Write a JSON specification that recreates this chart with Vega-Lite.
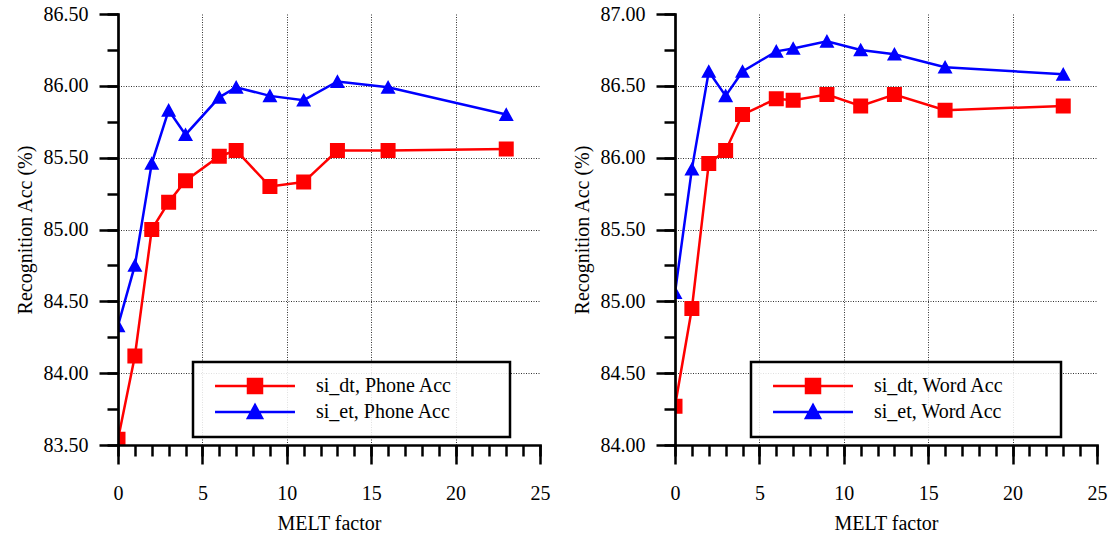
{
  "$schema": "https://vega.github.io/schema/vega-lite/v6.json",
  "background": "white",
  "padding": {"left": 15, "top": 4, "right": 5, "bottom": 5},
  "spacing": 22,
  "config": {
    "view": {"stroke": null},
    "font": "Liberation Serif, serif",
    "axis": {
      "labelFont": "Liberation Serif, serif", "titleFont": "Liberation Serif, serif",
      "labelFontSize": 20, "titleFontSize": 20, "titleFontWeight": "normal",
      "labelColor": "black", "titleColor": "black", "domainColor": "black", "tickColor": "black",
      "labelFlush": false, "labelOverlap": false
    },
    "legend": {"strokeWidth": 2.5}
  },
  "datasets": {
    "phone": [
      {"melt": 0, "acc": 83.54, "series": "si_dt, Phone Acc"},
      {"melt": 1, "acc": 84.12, "series": "si_dt, Phone Acc"},
      {"melt": 2, "acc": 85.00, "series": "si_dt, Phone Acc"},
      {"melt": 3, "acc": 85.19, "series": "si_dt, Phone Acc"},
      {"melt": 4, "acc": 85.34, "series": "si_dt, Phone Acc"},
      {"melt": 6, "acc": 85.51, "series": "si_dt, Phone Acc"},
      {"melt": 7, "acc": 85.55, "series": "si_dt, Phone Acc"},
      {"melt": 9, "acc": 85.30, "series": "si_dt, Phone Acc"},
      {"melt": 11, "acc": 85.33, "series": "si_dt, Phone Acc"},
      {"melt": 13, "acc": 85.55, "series": "si_dt, Phone Acc"},
      {"melt": 16, "acc": 85.55, "series": "si_dt, Phone Acc"},
      {"melt": 23, "acc": 85.56, "series": "si_dt, Phone Acc"},
      {"melt": 0, "acc": 84.33, "series": "si_et, Phone Acc"},
      {"melt": 1, "acc": 84.75, "series": "si_et, Phone Acc"},
      {"melt": 2, "acc": 85.46, "series": "si_et, Phone Acc"},
      {"melt": 3, "acc": 85.83, "series": "si_et, Phone Acc"},
      {"melt": 4, "acc": 85.66, "series": "si_et, Phone Acc"},
      {"melt": 6, "acc": 85.92, "series": "si_et, Phone Acc"},
      {"melt": 7, "acc": 85.99, "series": "si_et, Phone Acc"},
      {"melt": 9, "acc": 85.93, "series": "si_et, Phone Acc"},
      {"melt": 11, "acc": 85.90, "series": "si_et, Phone Acc"},
      {"melt": 13, "acc": 86.03, "series": "si_et, Phone Acc"},
      {"melt": 16, "acc": 85.99, "series": "si_et, Phone Acc"},
      {"melt": 23, "acc": 85.80, "series": "si_et, Phone Acc"}
    ],
    "word": [
      {"melt": 0, "acc": 84.27, "series": "si_dt, Word Acc"},
      {"melt": 1, "acc": 84.95, "series": "si_dt, Word Acc"},
      {"melt": 2, "acc": 85.96, "series": "si_dt, Word Acc"},
      {"melt": 3, "acc": 86.05, "series": "si_dt, Word Acc"},
      {"melt": 4, "acc": 86.30, "series": "si_dt, Word Acc"},
      {"melt": 6, "acc": 86.41, "series": "si_dt, Word Acc"},
      {"melt": 7, "acc": 86.40, "series": "si_dt, Word Acc"},
      {"melt": 9, "acc": 86.44, "series": "si_dt, Word Acc"},
      {"melt": 11, "acc": 86.36, "series": "si_dt, Word Acc"},
      {"melt": 13, "acc": 86.44, "series": "si_dt, Word Acc"},
      {"melt": 16, "acc": 86.33, "series": "si_dt, Word Acc"},
      {"melt": 23, "acc": 86.36, "series": "si_dt, Word Acc"},
      {"melt": 0, "acc": 85.06, "series": "si_et, Word Acc"},
      {"melt": 1, "acc": 85.92, "series": "si_et, Word Acc"},
      {"melt": 2, "acc": 86.60, "series": "si_et, Word Acc"},
      {"melt": 3, "acc": 86.43, "series": "si_et, Word Acc"},
      {"melt": 4, "acc": 86.60, "series": "si_et, Word Acc"},
      {"melt": 6, "acc": 86.74, "series": "si_et, Word Acc"},
      {"melt": 7, "acc": 86.76, "series": "si_et, Word Acc"},
      {"melt": 9, "acc": 86.81, "series": "si_et, Word Acc"},
      {"melt": 11, "acc": 86.75, "series": "si_et, Word Acc"},
      {"melt": 13, "acc": 86.72, "series": "si_et, Word Acc"},
      {"melt": 16, "acc": 86.63, "series": "si_et, Word Acc"},
      {"melt": 23, "acc": 86.58, "series": "si_et, Word Acc"}
    ]
  },
  "resolve": {"scale": {"color": "independent", "shape": "independent"}, "legend": {"color": "independent", "shape": "independent"}},
  "hconcat": [
    {
      "width": 422, "height": 431,
      "data": {"name": "phone"},
      "layer": [
        {
          "mark": {"type": "line", "strokeWidth": 2.5, "clip": true},
          "encoding": {
            "x": {"field": "melt", "type": "quantitative", "scale": {"domain": [0, 25], "nice": false, "zero": false},
              "axis": {"orient": "bottom", "values": [0, 5, 10, 15, 20, 25], "tickSize": 19, "tickWidth": 2.5, "domainWidth": 2.7, "domainCap": "square", "labelPadding": 19, "title": "MELT factor", "titlePadding": 10, "grid": false, "zindex": 1}},
            "y": {"field": "acc", "type": "quantitative", "scale": {"domain": [83.5, 86.5], "nice": false, "zero": false},
              "axis": {"orient": "left", "values": [83.5, 84, 84.5, 85, 85.5, 86, 86.5], "format": ".2f", "tickSize": 19, "tickWidth": 2.5, "domainWidth": 2.7, "domainCap": "square", "labelPadding": 11, "title": "Recognition Acc (%)", "titlePadding": 8, "grid": false, "zindex": 1}},
            "color": {"field": "series", "type": "nominal",
              "scale": {"domain": ["si_dt, Phone Acc", "si_et, Phone Acc"], "range": ["#ff0000", "#0000ff"]},
              "legend": {"title": null, "orient": "none", "legendX": 75, "legendY": 348, "labelFont": "Liberation Serif, serif", "labelFontSize": 20, "labelColor": "black", "labelLimit": 400, "symbolSize": 196, "symbolStrokeWidth": 2.5, "symbolOpacity": 1, "padding": 14, "rowPadding": 2, "labelOffset": 51, "symbolOffset": 38, "cornerRadius": 0, "strokeColor": "black", "fillColor": "rgba(255,255,255,0.85)"}}
          }
        },
        {
          "mark": {"type": "point", "filled": true, "opacity": 1, "size": 225, "clip": true},
          "encoding": {
            "x": {"field": "melt", "type": "quantitative", "scale": {"domain": [0, 25], "nice": false, "zero": false},
              "axis": {"orient": "bottom", "values": [0,1,2,3,4,5,6,7,8,9,10,11,12,13,14,15,16,17,18,19,20,21,22,23,24,25], "ticks": true, "tickSize": 11, "tickWidth": 2.5, "labels": false, "domain": false, "title": null, "grid": true, "gridColor": "#333", "gridWidth": 1, "gridDash": [1, 1.5],
                "gridOpacity": {"condition": {"test": "datum.value % 5 === 0 && datum.value > 0 && datum.value < 25", "value": 1}, "value": 0}, "zindex": 0}},
            "y": {"field": "acc", "type": "quantitative", "scale": {"domain": [83.5, 86.5], "nice": false, "zero": false},
              "axis": {"orient": "left", "values": [83.5, 83.75, 84, 84.25, 84.5, 84.75, 85, 85.25, 85.5, 85.75, 86, 86.25, 86.5], "ticks": true, "tickSize": 11, "tickWidth": 2.5, "labels": false, "domain": false, "title": null, "grid": true, "gridColor": "#333", "gridWidth": 1, "gridDash": [1, 1.5],
                "gridOpacity": {"condition": {"test": "datum.value % 0.5 === 0 && datum.value > 83.6 && datum.value < 86.4", "value": 1}, "value": 0}, "zindex": 0}},
            "color": {"field": "series", "type": "nominal", "scale": {"domain": ["si_dt, Phone Acc", "si_et, Phone Acc"], "range": ["#ff0000", "#0000ff"]}, "legend": null},
            "shape": {"field": "series", "type": "nominal",
              "scale": {"domain": ["si_dt, Phone Acc", "si_et, Phone Acc"], "range": ["M-5.71,0H5.71M-1,-1H1V1H-1ZM33.7,0", "M-5.71,0H5.71M0,-0.97L1,0.85L-1,0.85ZM33.7,0"]},
              "legend": null}
          }
        }
      ],
      "resolve": {"axis": {"x": "independent", "y": "independent"}}
    },
    {
      "width": 422, "height": 431,
      "data": {"name": "word"},
      "layer": [
        {
          "mark": {"type": "line", "strokeWidth": 2.5, "clip": true},
          "encoding": {
            "x": {"field": "melt", "type": "quantitative", "scale": {"domain": [0, 25], "nice": false, "zero": false},
              "axis": {"orient": "bottom", "values": [0, 5, 10, 15, 20, 25], "tickSize": 19, "tickWidth": 2.5, "domainWidth": 2.7, "domainCap": "square", "labelPadding": 19, "title": "MELT factor", "titlePadding": 10, "grid": false, "zindex": 1}},
            "y": {"field": "acc", "type": "quantitative", "scale": {"domain": [84, 87], "nice": false, "zero": false},
              "axis": {"orient": "left", "values": [84, 84.5, 85, 85.5, 86, 86.5, 87], "format": ".2f", "tickSize": 19, "tickWidth": 2.5, "domainWidth": 2.7, "domainCap": "square", "labelPadding": 11, "title": "Recognition Acc (%)", "titlePadding": 8, "grid": false, "zindex": 1}},
            "color": {"field": "series", "type": "nominal",
              "scale": {"domain": ["si_dt, Word Acc", "si_et, Word Acc"], "range": ["#ff0000", "#0000ff"]},
              "legend": {"title": null, "orient": "none", "legendX": 76, "legendY": 348, "labelFont": "Liberation Serif, serif", "labelFontSize": 20, "labelColor": "black", "labelLimit": 400, "symbolSize": 196, "symbolStrokeWidth": 2.5, "symbolOpacity": 1, "padding": 14, "rowPadding": 2, "labelOffset": 51, "symbolOffset": 38, "cornerRadius": 0, "strokeColor": "black", "fillColor": "rgba(255,255,255,0.85)"}}
          }
        },
        {
          "mark": {"type": "point", "filled": true, "opacity": 1, "size": 225, "clip": true},
          "encoding": {
            "x": {"field": "melt", "type": "quantitative", "scale": {"domain": [0, 25], "nice": false, "zero": false},
              "axis": {"orient": "bottom", "values": [0,1,2,3,4,5,6,7,8,9,10,11,12,13,14,15,16,17,18,19,20,21,22,23,24,25], "ticks": true, "tickSize": 11, "tickWidth": 2.5, "labels": false, "domain": false, "title": null, "grid": true, "gridColor": "#333", "gridWidth": 1, "gridDash": [1, 1.5],
                "gridOpacity": {"condition": {"test": "datum.value % 5 === 0 && datum.value > 0 && datum.value < 25", "value": 1}, "value": 0}, "zindex": 0}},
            "y": {"field": "acc", "type": "quantitative", "scale": {"domain": [84, 87], "nice": false, "zero": false},
              "axis": {"orient": "left", "values": [84, 84.25, 84.5, 84.75, 85, 85.25, 85.5, 85.75, 86, 86.25, 86.5, 86.75, 87], "ticks": true, "tickSize": 11, "tickWidth": 2.5, "labels": false, "domain": false, "title": null, "grid": true, "gridColor": "#333", "gridWidth": 1, "gridDash": [1, 1.5],
                "gridOpacity": {"condition": {"test": "datum.value % 0.5 === 0 && datum.value > 84.1 && datum.value < 86.9", "value": 1}, "value": 0}, "zindex": 0}},
            "color": {"field": "series", "type": "nominal", "scale": {"domain": ["si_dt, Word Acc", "si_et, Word Acc"], "range": ["#ff0000", "#0000ff"]}, "legend": null},
            "shape": {"field": "series", "type": "nominal",
              "scale": {"domain": ["si_dt, Word Acc", "si_et, Word Acc"], "range": ["M-5.71,0H5.71M-1,-1H1V1H-1ZM32.6,0", "M-5.71,0H5.71M0,-0.97L1,0.85L-1,0.85ZM32.6,0"]},
              "legend": null}
          }
        }
      ],
      "resolve": {"axis": {"x": "independent", "y": "independent"}}
    }
  ]
}
